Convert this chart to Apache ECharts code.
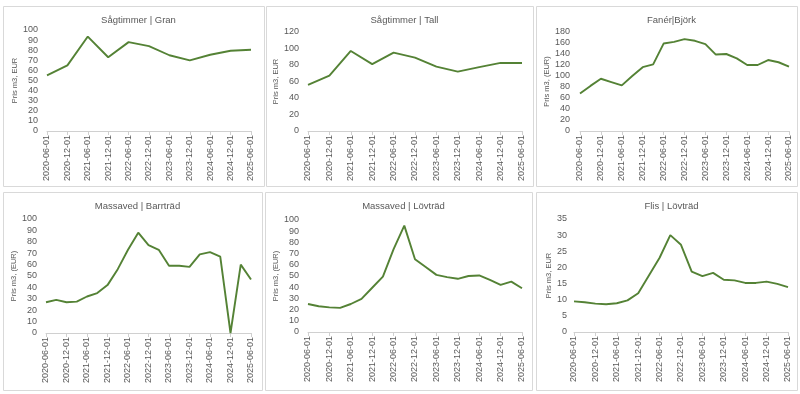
<!DOCTYPE html>
<html>
<head>
<meta charset="utf-8">
<script src="https://cdn.jsdelivr.net/npm/echarts@6/dist/echarts.min.js"></script>
<style>
html,body{margin:0;padding:0;background:#fff;}
#c{width:800px;height:394px;}
</style>
</head>
<body>
<div id="c"></div>
<script>
const halfYears = ['2020-06-01','2020-12-01','2021-06-01','2021-12-01','2022-06-01','2022-12-01','2023-06-01','2023-12-01','2024-06-01','2024-12-01','2025-06-01'];
const quarters = ['2020-06-01','2020-09-01','2020-12-01','2021-03-01','2021-06-01','2021-09-01','2021-12-01','2022-03-01','2022-06-01','2022-09-01','2022-12-01','2023-03-01','2023-06-01','2023-09-01','2023-12-01','2024-03-01','2024-06-01','2024-09-01','2024-12-01','2025-03-01','2025-06-01'];

const sagtimmerGran = [55, 65, 93.5, 73, 88, 84, 75, 70, 75.5, 79.5, 80.5];
const sagtimmerTall = [56, 67, 97, 81, 95, 89, 78, 72, 77.5, 82.5, 82.5];
const fanerBjork = [68, 82, 95, 89, 83, 100, 116, 121, 159, 162, 167, 164, 158, 139, 140, 132, 120, 120, 129, 125, 117];
const massavedBarr = [27, 29, 27, 27.5, 32, 35, 42, 56, 73, 88, 77, 73, 59, 59, 58, 69, 71, 67, 0, 60, 47];
const massavedLov = [25, 23, 22, 21.5, 25, 29.5, 39.5, 49.5, 74, 95, 65, 58, 51, 49, 47.5, 50, 50.5, 46.5, 42, 45, 39];
const flisLov = [9.5, 9.2, 8.8, 8.6, 8.9, 9.8, 12, 17.5, 23, 30, 27, 18.7, 17.3, 18.3, 16.2, 16, 15.2, 15.2, 15.6, 14.9, 13.9];

const titles = ['Sågtimmer | Gran','Sågtimmer | Tall','Fanér|Björk','Massaved | Barrträd','Massaved | Lövträd','Flis | Lövträd'];
const yNames = ['Pris m3, EUR','Pris m3, EUR','Pris m3, (EUR)','Pris m3, (EUR)','Pris m3, (EUR)','Pris m3, EUR'];
const yMax = [100, 120, 180, 100, 100, 35];
const yStep = [10, 20, 20, 10, 10, 5];

const panels = [
  {cats: halfYears, data: sagtimmerGran, box:[3,6,261,180], grid:{left:47,top:30,width:204,height:101}, nameGap:24, labMargin:9, lblInt:0},
  {cats: halfYears, data: sagtimmerTall, box:[266,6,267,180], grid:{left:308,top:32,width:214,height:99}, nameGap:24, labMargin:9, lblInt:0},
  {cats: quarters, data: fanerBjork, box:[536,6,261,180], grid:{left:580,top:32,width:209,height:99}, nameGap:25, labMargin:10, lblInt:1},
  {cats: quarters, data: massavedBarr, box:[3,192,259,198], grid:{left:46,top:219,width:205,height:114}, nameGap:25, labMargin:9, lblInt:1},
  {cats: quarters, data: massavedLov, box:[265,192,267,198], grid:{left:308,top:220,width:214,height:112}, nameGap:25, labMargin:9, lblInt:1},
  {cats: quarters, data: flisLov, box:[536,192,261,198], grid:{left:574,top:219,width:214,height:113}, nameGap:19, labMargin:7, lblInt:1}
];

const FONT = 'Liberation Sans';
const TXT = '#595959';
const AX = '#d0d0d0';
const LINE = '#548235';

const option = {
  backgroundColor: '#fff',
  animation: false,
  textStyle: {fontFamily: FONT},
  title: panels.map((p, i) => ({
    text: titles[i],
    left: p.box[0] + p.box[2] / 2,
    top: p.box[1] + 4,
    textAlign: 'center',
    textStyle: {fontFamily: FONT, fontSize: 9.5, fontWeight: 'normal', color: TXT}
  })),
  graphic: panels.map(p => ({
    type: 'rect', silent: true,
    shape: {x: p.box[0] + 0.5, y: p.box[1] + 0.5, width: p.box[2], height: p.box[3]},
    style: {fill: 'none', stroke: '#d9d9d9', lineWidth: 1}
  })),
  grid: panels.map(p => Object.assign({containLabel: false}, p.grid)),
  xAxis: panels.map((p, i) => ({
    type: 'category', gridIndex: i, data: p.cats, boundaryGap: false,
    axisLine: {lineStyle: {color: AX, width: 1}},
    axisTick: {show: true, length: 4, interval: p.lblInt, lineStyle: {color: AX}},
    axisLabel: {rotate: 90, interval: p.lblInt, margin: 4, color: TXT, fontSize: 9, fontFamily: FONT},
    splitLine: {show: false}
  })),
  yAxis: panels.map((p, i) => ({
    type: 'value', gridIndex: i, min: 0, max: yMax[i], interval: yStep[i],
    name: yNames[i], nameLocation: 'middle', nameRotate: 90, nameGap: p.nameGap,
    nameTextStyle: {color: TXT, fontSize: 7.5, fontFamily: FONT},
    axisLine: {show: false}, axisTick: {show: false},
    axisLabel: {color: TXT, fontSize: 9, fontFamily: FONT, margin: p.labMargin},
    splitLine: {show: false}
  })),
  series: panels.map((p, i) => ({
    type: 'line', xAxisIndex: i, yAxisIndex: i, data: p.data,
    showSymbol: false, symbol: 'none',
    lineStyle: {color: LINE, width: 1.9},
    itemStyle: {color: LINE}
  }))
};

const chart = echarts.init(document.getElementById('c'), null, {renderer: 'canvas'});
chart.setOption(option);
</script>
</body>
</html>
